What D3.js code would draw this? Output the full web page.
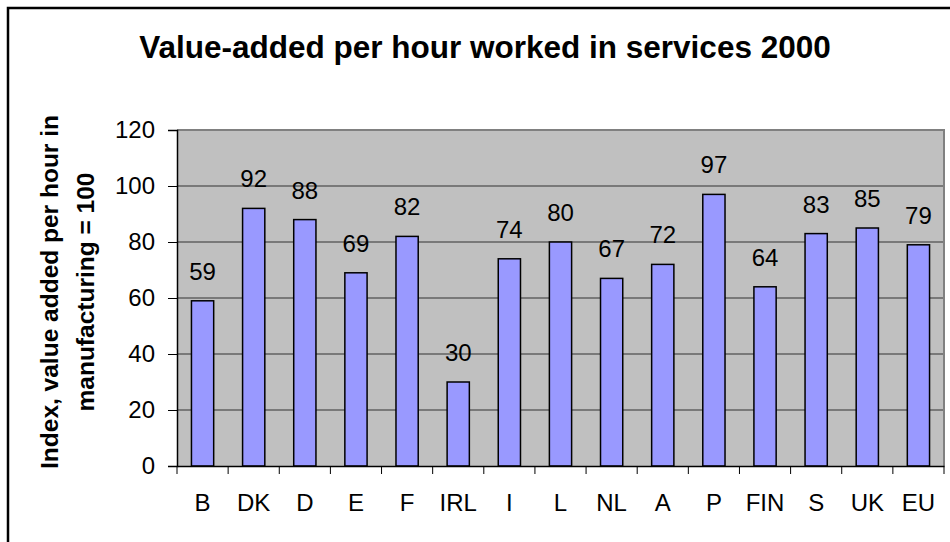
<!DOCTYPE html>
<html>
<head>
<meta charset="utf-8">
<script src="https://cdn.jsdelivr.net/npm/d3@7"></script>
<style>
  body { margin: 0; background: #fff; }
  text { font-family: "Liberation Sans", Arial, sans-serif; fill: #000; }
</style>
</head>
<body>
<div id="chart"></div>
<script>
const countries = ["B", "DK", "D", "E", "F", "IRL", "I", "L", "NL", "A", "P", "FIN", "S", "UK", "EU"];
const values = [59, 92, 88, 69, 82, 30, 74, 80, 67, 72, 97, 64, 83, 85, 79];
const yTicks = [0, 20, 40, 60, 80, 100, 120];

const W = 950, H = 542;
const plotL = 177, plotR = 944, plotT = 130, plotB = 466;
const fontSize = 24;

const svg = d3.select("#chart").append("svg")
    .attr("width", W)
    .attr("height", H);

// outer frame
svg.append("rect")
    .attr("x", 8).attr("y", 8)
    .attr("width", W + 20).attr("height", H + 20)
    .attr("fill", "#fff")
    .attr("stroke", "#000")
    .attr("stroke-width", 2.5);

const x = d3.scaleBand()
    .domain(countries)
    .range([plotL, plotR]);

const y = d3.scaleLinear()
    .domain([0, 120])
    .range([plotB, plotT]);

// plot area
svg.append("rect")
    .attr("x", plotL).attr("y", plotT)
    .attr("width", plotR - plotL).attr("height", plotB - plotT)
    .attr("fill", "#c0c0c0");

// gridlines
svg.append("g")
    .selectAll("line")
    .data(yTicks.filter(d => d > 0 && d < 120))
    .enter()
    .append("line")
    .attr("x1", plotL).attr("x2", plotR)
    .attr("y1", d => y(d)).attr("y2", d => y(d))
    .attr("stroke", "#333")
    .attr("stroke-width", 1);

// gray border top and right
svg.append("path")
    .attr("d", `M${plotL},${plotT}H${plotR}V${plotB}`)
    .attr("fill", "none")
    .attr("stroke", "#808080")
    .attr("stroke-width", 2);

// bars
const bw = x.bandwidth() / 2.3;
svg.append("g")
    .selectAll("rect")
    .data(countries)
    .enter()
    .append("rect")
    .attr("x", d => x(d) + x.bandwidth() / 2 - bw / 2)
    .attr("y", (d, i) => y(values[i]))
    .attr("width", bw)
    .attr("height", (d, i) => y(0) - y(values[i]))
    .attr("fill", "#9999ff")
    .attr("stroke", "#000")
    .attr("stroke-width", 1.5);

// data labels
svg.append("g")
    .selectAll("text")
    .data(countries)
    .enter()
    .append("text")
    .attr("x", d => x(d) + x.bandwidth() / 2)
    .attr("y", (d, i) => y(values[i]) - 21)
    .attr("text-anchor", "middle")
    .attr("font-size", fontSize + "px")
    .text((d, i) => values[i]);

// y axis
const yAxis = svg.append("g")
    .attr("transform", `translate(${plotL},0)`)
    .call(d3.axisLeft(y).tickValues(yTicks).tickSize(9).tickPadding(13));
yAxis.select(".domain").attr("stroke", "#000").attr("stroke-width", 1.5);
yAxis.selectAll(".tick line").attr("stroke", "#000");
yAxis.selectAll(".tick text")
    .attr("font-size", fontSize + "px")
    .attr("font-family", "Liberation Sans, Arial, sans-serif")
    .attr("fill", "#000");

// x axis
const xAxis = svg.append("g")
    .attr("transform", `translate(0,${plotB})`)
    .call(d3.axisBottom(x).tickSize(0).tickPadding(28));
xAxis.select(".domain").attr("stroke", "#000").attr("stroke-width", 1.5);
xAxis.selectAll(".tick text")
    .attr("font-size", fontSize + "px")
    .attr("font-family", "Liberation Sans, Arial, sans-serif")
    .attr("fill", "#000");

// category separators below the axis
svg.append("g")
    .selectAll("line")
    .data(countries.concat(["end"]))
    .enter()
    .append("line")
    .attr("x1", (d, i) => i < countries.length ? x(d) : plotR)
    .attr("x2", (d, i) => i < countries.length ? x(d) : plotR)
    .attr("y1", plotB).attr("y2", plotB + 8)
    .attr("stroke", "#000");

// title
svg.append("text")
    .attr("x", 485).attr("y", 58)
    .attr("text-anchor", "middle")
    .attr("font-size", "31.5px")
    .attr("font-weight", "bold")
    .text("Value-added per hour worked in services 2000");

// y axis title
const yt = svg.append("text")
    .attr("transform", "translate(0,292) rotate(-90)")
    .attr("text-anchor", "middle")
    .attr("font-size", "24.5px")
    .attr("font-weight", "bold");
yt.append("tspan").attr("x", 0).attr("y", 58).text("Index, value added per hour in");
yt.append("tspan").attr("x", 0).attr("y", 94).text("manufacturing = 100");
</script>
</body>
</html>
